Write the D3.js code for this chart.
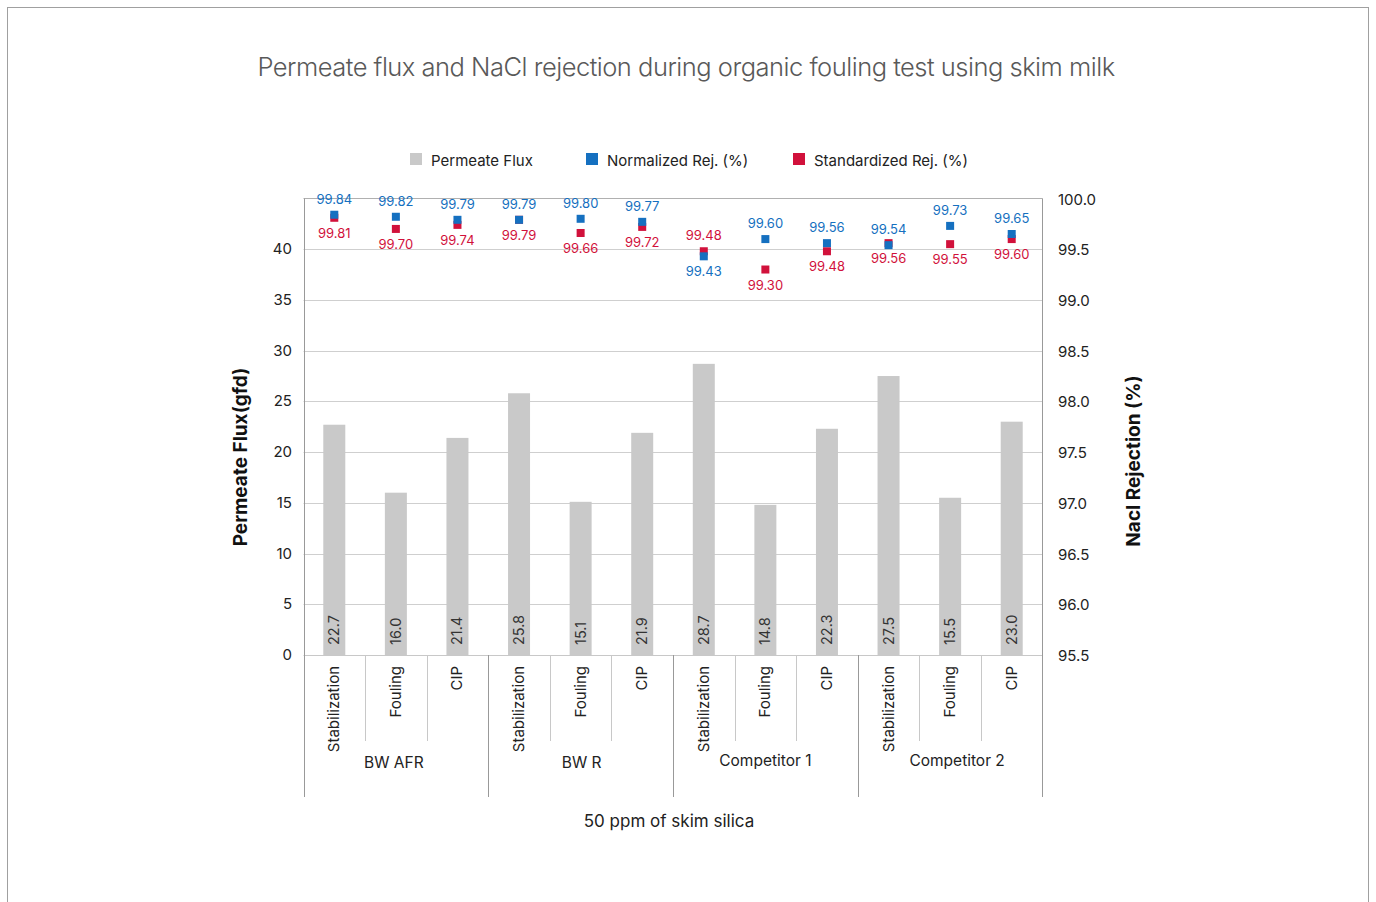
<!DOCTYPE html>
<html><head><meta charset="utf-8">
<script src="https://cdn.jsdelivr.net/npm/d3@7"></script>
<style>body{margin:0;background:#fff;} svg{display:block;font-family:Inter, "Noto Sans", sans-serif;}</style>
</head><body>
<script>
const groups = ["BW AFR", "BW R", "Competitor 1", "Competitor 2"];
const stages = ["Stabilization", "Fouling", "CIP"];
const flux = [22.7, 16.0, 21.4, 25.8, 15.1, 21.9, 28.7, 14.8, 22.3, 27.5, 15.5, 23.0];
const normRej = [99.84, 99.82, 99.79, 99.79, 99.80, 99.77, 99.43, 99.60, 99.56, 99.54, 99.73, 99.65];
const stdRej = [99.81, 99.70, 99.74, 99.79, 99.66, 99.72, 99.48, 99.30, 99.48, 99.56, 99.55, 99.60];
const normLabelAbove = [1,1,1,1,1,1,0,1,1,1,1,1];
const stdLabelAbove = [0,0,0,0,0,0,1,0,0,0,0,0];
const leftTicks = [0, 5, 10, 15, 20, 25, 30, 35, 40];
const rightTicks = [95.5, 96.0, 96.5, 97.0, 97.5, 98.0, 98.5, 99.0, 99.5, 100.0];
const legendItems = ["Permeate Flux", "Normalized Rej. (%)", "Standardized Rej. (%)"];

(function(){
const W = 1376, H = 902;
const colors = {flux: "#c9c9c9", norm: "#1570c0", std: "#d1113b"};
const svg = d3.select("body").append("svg").attr("width", W).attr("height", H);

svg.append("rect").attr("x", 7.5).attr("y", 7.5).attr("width", 1361).attr("height", 910)
  .attr("fill", "none").attr("stroke", "#a0a0a0");

const pLeft = 303.5, pRight = 1042.5, pTop = 198.5, pBottom = 655;
const cats = d3.range(flux.length);
const x = d3.scaleBand().domain(cats).range([pLeft, pRight]).paddingInner(0).paddingOuter(0);
const yL = d3.scaleLinear().domain([0, 45]).range([pBottom, pTop]);
const yR = d3.scaleLinear().domain([95.5, 100]).range([pBottom, pTop]);

// title
svg.append("text").attr("x", 686).attr("y", 76).attr("text-anchor", "middle")
  .attr("font-size", 25.5).attr("fill", "#595959").attr("letter-spacing", -0.5).attr("font-weight", 300)
  .text("Permeate flux and NaCl rejection during organic fouling test using skim milk");

// gridlines
svg.append("g").selectAll("line").data(leftTicks.slice(1)).join("line")
  .attr("x1", pLeft).attr("x2", pRight)
  .attr("y1", d => Math.round(yL(d)) + 0.5).attr("y2", d => Math.round(yL(d)) + 0.5)
  .attr("stroke", "#cfcfcf").attr("stroke-width", 1);

// bars
const bw = 22;
svg.append("g").selectAll("rect").data(flux).join("rect")
  .attr("x", (d, i) => x(i) + x.bandwidth() / 2 - bw / 2)
  .attr("width", bw)
  .attr("y", d => yL(d)).attr("height", d => pBottom - yL(d))
  .attr("fill", colors.flux);

// bar labels
svg.append("g").selectAll("text").data(flux).join("text")
  .attr("transform", (d, i) => `translate(${x(i) + x.bandwidth() / 2 + 5},${pBottom - 10}) rotate(-90)`)
  .attr("font-size", 14.5).attr("fill", "#333").text(d => d.toFixed(1));

// frame
svg.append("line").attr("x1", pLeft).attr("x2", pRight).attr("y1", pTop).attr("y2", pTop).attr("stroke", "#b0b0b0");
svg.append("line").attr("x1", pLeft).attr("x2", pRight).attr("y1", pBottom + 0.5).attr("y2", pBottom + 0.5).attr("stroke", "#c8c8c8");

// category separators
const inner = cats.slice(1).filter(i => i % 3 !== 0);
svg.append("g").selectAll("line").data(inner).join("line")
  .attr("x1", i => Math.round(x(i)) + 0.5).attr("x2", i => Math.round(x(i)) + 0.5)
  .attr("y1", pBottom).attr("y2", 741).attr("stroke", "#c8c8c8");
const outer = [0, 3, 6, 9, 12];
svg.append("g").selectAll("line").data(outer).join("line")
  .attr("x1", i => i === 12 ? pRight : Math.round(x(i)) + 0.5).attr("x2", i => i === 12 ? pRight : Math.round(x(i)) + 0.5)
  .attr("y1", d => (d === 0 || d === 12) ? pTop : pBottom).attr("y2", 797).attr("stroke", "#999");

// category labels
svg.append("g").selectAll("text").data(cats).join("text")
  .attr("transform", i => `translate(${x(i) + x.bandwidth() / 2 + 5},${pBottom + 11}) rotate(-90)`)
  .attr("text-anchor", "end").attr("font-size", 15).attr("fill", "#222")
  .text(i => stages[i % 3]);

// group labels
const gx = d3.scaleBand().domain(groups).range([pLeft, pRight]);
const gOff = [-2, 1, 0, 7];
svg.append("g").selectAll("text").data(groups).join("text")
  .attr("x", (d, i) => gx(d) + gx.bandwidth() / 2 + gOff[i])
  .attr("y", (d, i) => i >= 2 ? 766 : 768).attr("text-anchor", "middle")
  .attr("font-size", 15.5).attr("fill", "#222").text(d => d);

svg.append("text").attr("x", 669).attr("y", 827).attr("text-anchor", "middle")
  .attr("font-size", 17).attr("fill", "#222").text("50 ppm of skim silica");

// left axis tick labels
svg.append("g").selectAll("text").data(leftTicks).join("text")
  .attr("x", 292).attr("y", d => yL(d) + 5).attr("text-anchor", "end")
  .attr("font-size", 15).attr("fill", "#222").text(d => d);
// right axis tick labels
svg.append("g").selectAll("text").data(rightTicks).join("text")
  .attr("x", 1058).attr("y", d => yR(d) + 6).attr("text-anchor", "start")
  .attr("font-size", 15).attr("fill", "#222").text(d => d.toFixed(1));

// axis titles
svg.append("text").attr("transform", "translate(247,457) rotate(-90)").attr("text-anchor", "middle")
  .attr("font-size", 19).attr("font-weight", 700).attr("fill", "#111").text("Permeate Flux(gfd)");
svg.append("text").attr("transform", "translate(1140,461) rotate(-90)").attr("text-anchor", "middle")
  .attr("font-size", 19).attr("font-weight", 700).attr("fill", "#111").text("Nacl Rejection (%)");

// markers
const ms = 8;
function drawSeries(vals, color, above) {
  const g = svg.append("g");
  g.selectAll("rect").data(vals).join("rect")
    .attr("x", (d, i) => x(i) + x.bandwidth() / 2 - ms / 2)
    .attr("y", d => yR(d) - ms / 2).attr("width", ms).attr("height", ms).attr("fill", color);
  g.selectAll("text").data(vals).join("text")
    .attr("x", (d, i) => x(i) + x.bandwidth() / 2)
    .attr("y", (d, i) => above[i] ? yR(d) - 11 : yR(d) + 20)
    .attr("text-anchor", "middle").attr("font-size", 13).attr("fill", color).text(d => d.toFixed(2));
}
drawSeries(stdRej, colors.std, stdLabelAbove);
drawSeries(normRej, colors.norm, normLabelAbove);

// legend
const lg = svg.append("g");
const lx = [410, 586, 793];
const lc = [colors.flux, colors.norm, colors.std];
legendItems.forEach((t, i) => {
  lg.append("rect").attr("x", lx[i]).attr("y", 153).attr("width", 12).attr("height", 12).attr("fill", lc[i]);
  lg.append("text").attr("x", lx[i] + 21).attr("y", 166).attr("font-size", 15).attr("fill", "#222").text(t);
});
})();
</script>
</body></html>
